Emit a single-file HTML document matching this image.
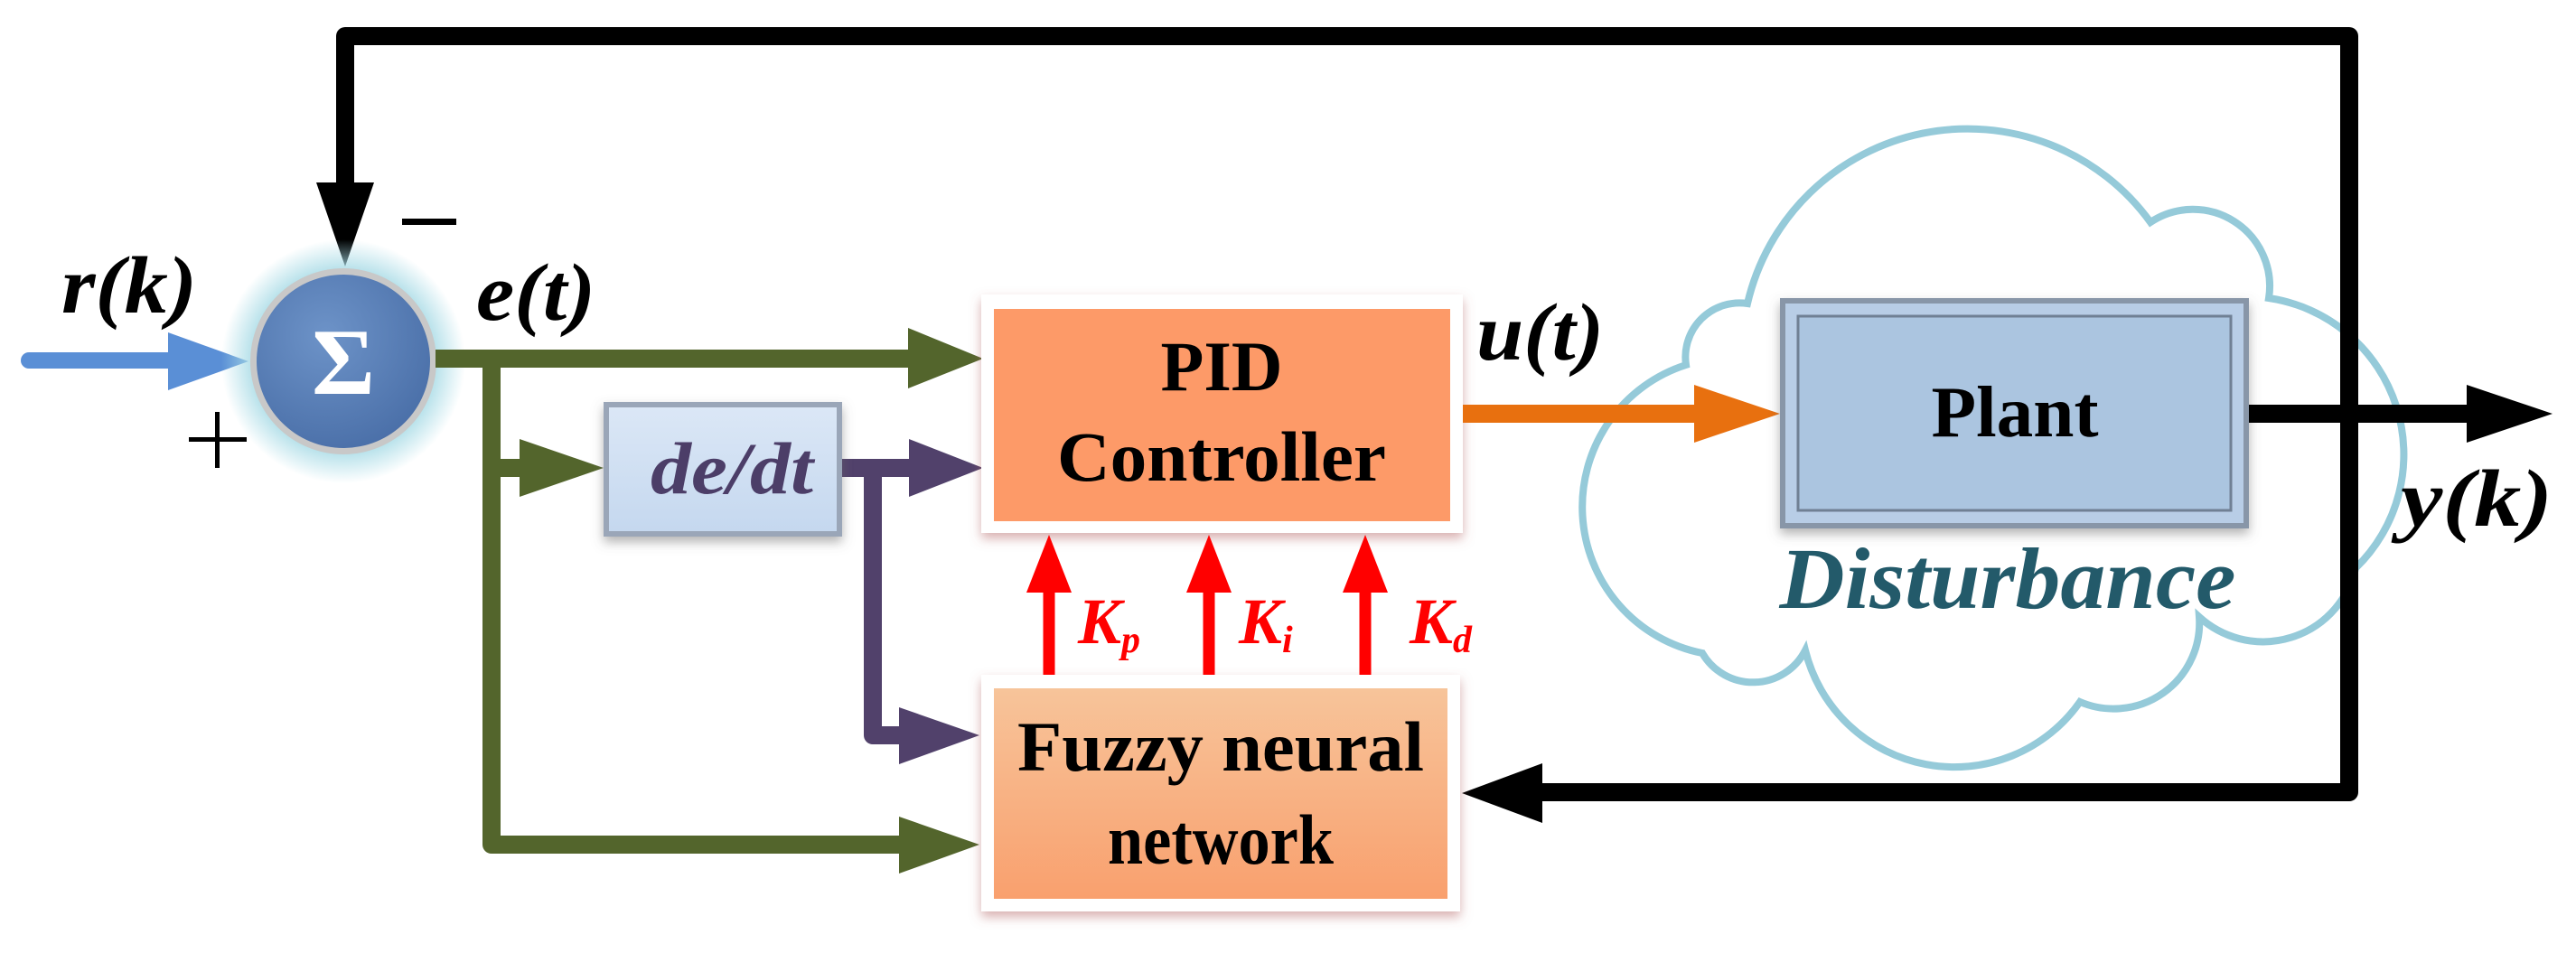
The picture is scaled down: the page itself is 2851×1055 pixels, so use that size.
<!DOCTYPE html>
<html><head><meta charset="utf-8"><style>
html,body{margin:0;padding:0;background:#fff;}
svg{display:block;font-family:'Liberation Serif','Times New Roman','DejaVu Serif',serif;}
svg text{font-family:'Liberation Serif','Times New Roman','DejaVu Serif',serif;font-weight:bold;}
</style></head><body>
<svg width="2851" height="1055" viewBox="0 0 2851 1055" xmlns="http://www.w3.org/2000/svg" font-family="Liberation Serif, serif">
<defs>
<radialGradient id="glow" cx="0.5" cy="0.5" r="0.5">
<stop offset="0.7" stop-color="#a8dbe6"/><stop offset="1" stop-color="#a8dbe6" stop-opacity="0"/>
</radialGradient>
<radialGradient id="ball" cx="0.4" cy="0.35" r="0.7">
<stop offset="0" stop-color="#6d93c8"/><stop offset="1" stop-color="#4a6fa8"/>
</radialGradient>
<linearGradient id="fuzzy" x1="0" y1="0" x2="0" y2="1">
<stop offset="0" stop-color="#f7c49a"/><stop offset="1" stop-color="#f9a06e"/>
</linearGradient>
<linearGradient id="dedt" x1="0" y1="0" x2="0" y2="1">
<stop offset="0" stop-color="#dbe7f6"/><stop offset="1" stop-color="#c5d8ef"/>
</linearGradient>
<filter id="sh" x="-10%" y="-10%" width="120%" height="130%"><feDropShadow dx="0" dy="6" stdDeviation="6" flood-color="#b06060" flood-opacity="0.5"/></filter>
<filter id="sh2" x="-10%" y="-10%" width="120%" height="130%"><feDropShadow dx="0" dy="6" stdDeviation="6" flood-color="#666" flood-opacity="0.5"/></filter>
</defs>

<!-- cloud -->
<path d="M1866,404 A60,60 0 0 1 1934,336 A250,250 0 0 1 2380,246 A85,85 0 0 1 2511,330 A175,175 0 0 1 2607,629 A105,105 0 0 1 2434,683 A95,95 0 0 1 2302,777 A170,170 0 0 1 1998,720 A65,65 0 0 1 1884,723 A165,165 0 0 1 1866,404 Z" fill="none" stroke="#95cad9" stroke-width="8"/>

<!-- top feedback -->
<path d="M382,210 V40 H2600 V877 H1700" fill="none" stroke="#000" stroke-width="20" stroke-linejoin="round"/>
<polygon points="350,202 414,202 382,295" fill="#000"/>
<polygon points="1707,845 1707,911 1618,878" fill="#000"/>

<!-- input blue -->
<line x1="32" y1="399" x2="195" y2="399" stroke="#5a8fd6" stroke-width="18" stroke-linecap="round"/>
<polygon points="186,368 186,432 275,400" fill="#5a8fd6"/>

<!-- sum -->
<circle cx="380" cy="400" r="135" fill="url(#glow)"/>
<circle cx="380" cy="400" r="103" fill="#c8c8c8"/>
<circle cx="380" cy="400" r="96" fill="url(#ball)"/>
<text x="380" y="436" font-size="105" fill="#fff" text-anchor="middle" textLength="70" lengthAdjust="spacingAndGlyphs">Σ</text>
<rect x="209" y="484" width="64" height="5" fill="#000"/>
<rect x="238" y="456" width="5" height="62" fill="#000"/>
<rect x="445" y="242" width="60" height="7" fill="#000"/>

<!-- green lines -->
<path d="M482,397 H1010 M544,397 V935 H1000 M544,518 H580" fill="none" stroke="#53652c" stroke-width="20" stroke-linejoin="round"/>
<polygon points="1005,363 1005,430 1088,397" fill="#53652c"/>
<polygon points="575,486 575,550 668,518" fill="#53652c"/>
<polygon points="995,904 995,967 1084,935" fill="#53652c"/>

<!-- purple -->
<path d="M932,518 H1010 M966,518 V814 H1000" fill="none" stroke="#51416b" stroke-width="20" stroke-linejoin="round"/>
<polygon points="1006,486 1006,550 1088,518" fill="#51416b"/>
<polygon points="995,783 995,846 1084,814" fill="#51416b"/>

<!-- de/dt -->
<g filter="url(#sh2)">
<rect x="668" y="445" width="264" height="149" fill="#9aa6b8"/>
<rect x="674" y="451" width="252" height="137" fill="url(#dedt)"/>
</g>
<text x="810" y="546" font-size="82" font-style="italic" fill="#4c3e68" text-anchor="middle" textLength="180" lengthAdjust="spacingAndGlyphs">de/dt</text>

<!-- PID -->
<g filter="url(#sh)">
<rect x="1086" y="326" width="533" height="264" fill="#fff"/>
</g>
<rect x="1100" y="342" width="505" height="235" fill="#fd9a68"/>
<text x="1352" y="432" font-size="78" text-anchor="middle" textLength="135" lengthAdjust="spacingAndGlyphs">PID</text>
<text x="1352" y="532" font-size="78" text-anchor="middle" textLength="364" lengthAdjust="spacingAndGlyphs">Controller</text>

<!-- Fuzzy -->
<g filter="url(#sh)">
<rect x="1086" y="747" width="530" height="262" fill="#fff"/>
</g>
<rect x="1100" y="762" width="502" height="233" fill="url(#fuzzy)"/>
<text x="1351" y="853" font-size="78" text-anchor="middle" textLength="450" lengthAdjust="spacingAndGlyphs">Fuzzy neural</text>
<text x="1351" y="956" font-size="78" text-anchor="middle" textLength="250" lengthAdjust="spacingAndGlyphs">network</text>

<!-- red arrows -->
<g stroke="#f00" stroke-width="13">
<line x1="1161" y1="747" x2="1161" y2="640"/>
<line x1="1338" y1="747" x2="1338" y2="640"/>
<line x1="1511" y1="747" x2="1511" y2="640"/>
</g>
<g fill="#f00">
<polygon points="1136,656 1186,656 1161,592"/>
<polygon points="1313,656 1363,656 1338,592"/>
<polygon points="1486,656 1536,656 1511,592"/>
</g>
<g fill="#f00" font-style="italic" font-size="72">
<text x="1193" y="712">K<tspan font-size="42" dy="10">p</tspan></text>
<text x="1371" y="712">K<tspan font-size="42" dy="10">i</tspan></text>
<text x="1560" y="712">K<tspan font-size="42" dy="10">d</tspan></text>
</g>

<!-- orange -->
<line x1="1619" y1="458" x2="1880" y2="458" stroke="#e8700f" stroke-width="20"/>
<polygon points="1875,426 1875,490 1970,458" fill="#e8700f"/>

<!-- Plant -->
<g filter="url(#sh2)">
<rect x="1970" y="330" width="519" height="255" fill="#8896a8"/>
<rect x="1976" y="336" width="507" height="243" fill="#b8cde6"/>
<rect x="1990" y="350" width="479" height="215" fill="#abc5e0" stroke="#6f8094" stroke-width="3"/>
</g>
<text x="2230" y="483" font-size="80" text-anchor="middle" textLength="185" lengthAdjust="spacingAndGlyphs">Plant</text>
<text x="2222" y="673" font-size="96" font-style="italic" fill="#235a6a" text-anchor="middle" textLength="505" lengthAdjust="spacingAndGlyphs">Disturbance</text>

<!-- output -->
<line x1="2489" y1="458" x2="2740" y2="458" stroke="#000" stroke-width="20"/>
<polygon points="2730,426 2730,490 2825,458" fill="#000"/>

<!-- labels -->
<g font-style="italic" font-size="90">
<text x="68" y="346" textLength="150" lengthAdjust="spacingAndGlyphs">r(k)</text>
<text x="527" y="354" textLength="132" lengthAdjust="spacingAndGlyphs">e(t)</text>
<text x="1634" y="398" textLength="141" lengthAdjust="spacingAndGlyphs">u(t)</text>
<text x="2657" y="582" textLength="168" lengthAdjust="spacingAndGlyphs">y(k)</text>
</g>
</svg>
</body></html>
